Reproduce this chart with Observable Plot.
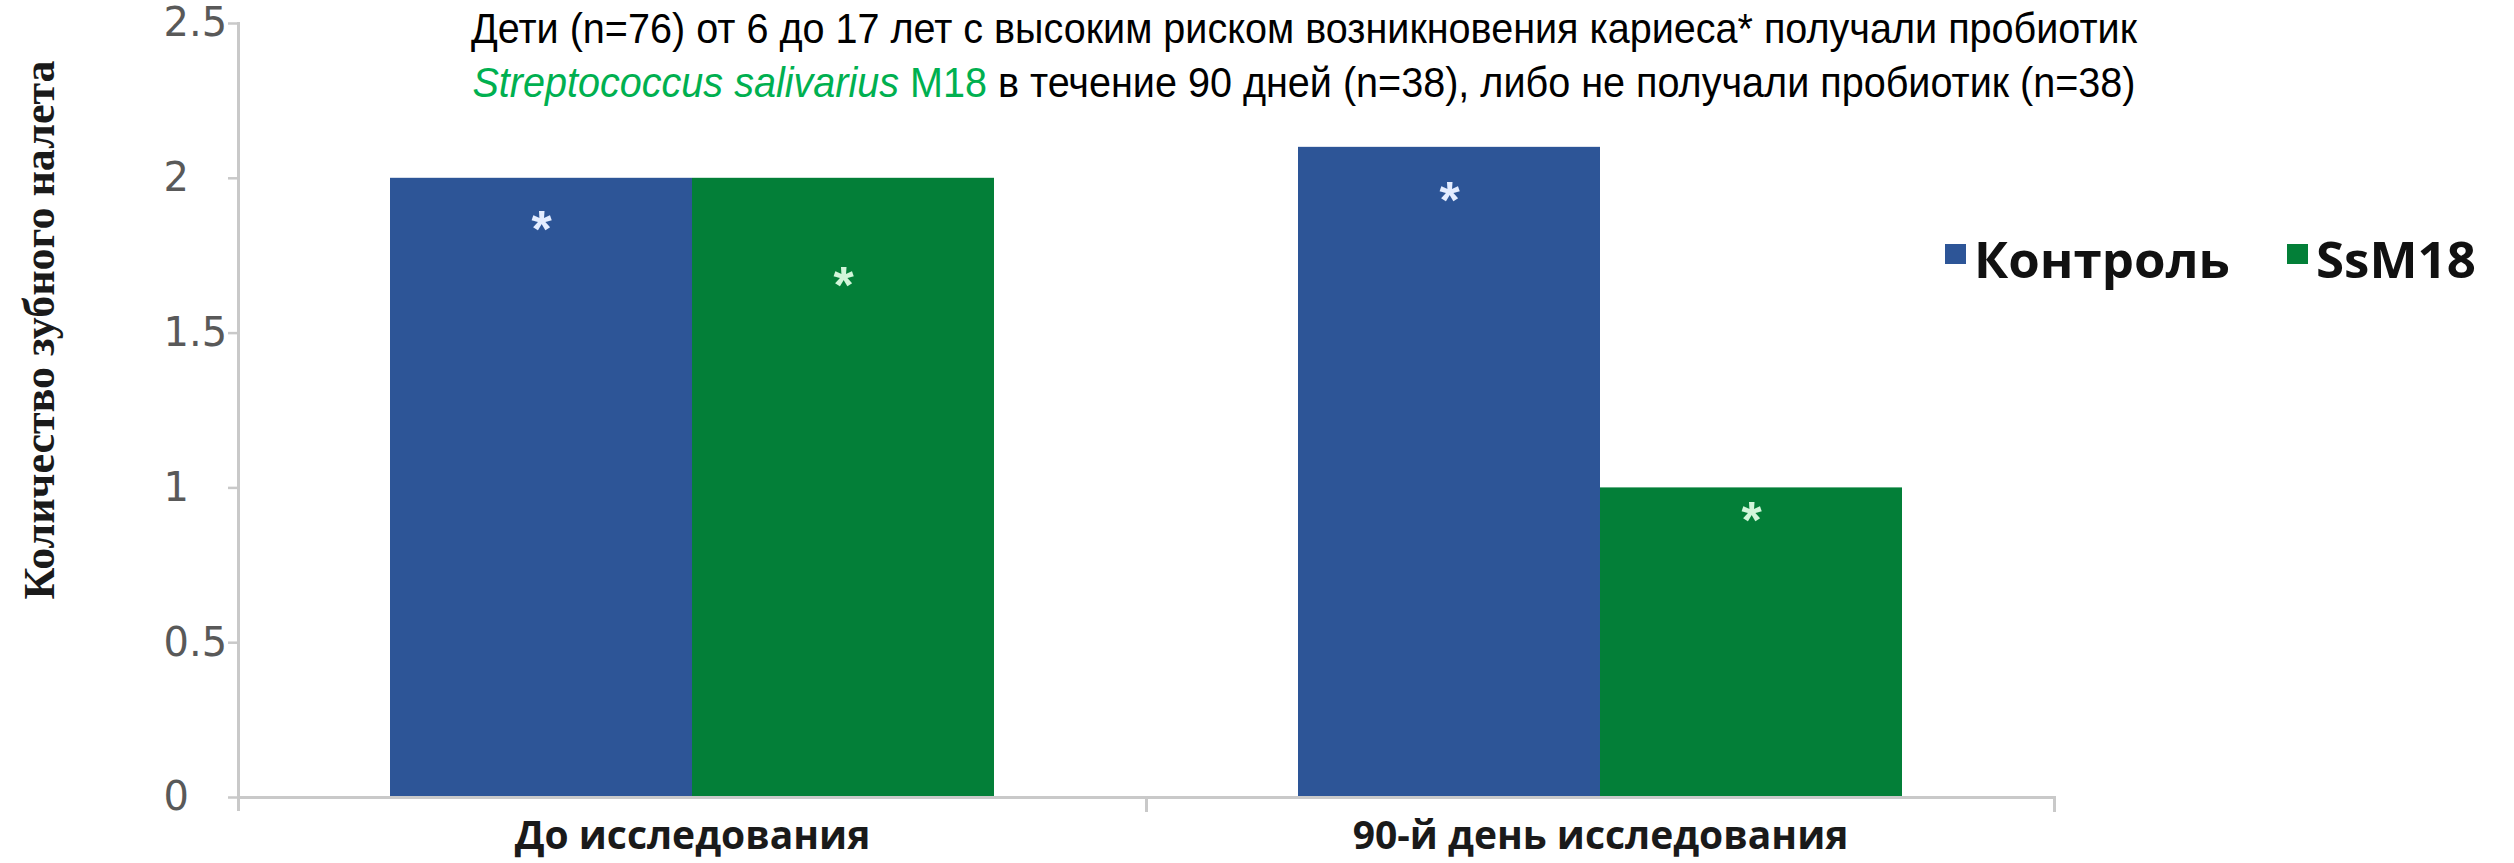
<!DOCTYPE html>
<html>
<head>
<meta charset="utf-8">
<script src="https://cdn.jsdelivr.net/npm/d3@7"></script>
<script src="https://cdn.jsdelivr.net/npm/@observablehq/plot@0.6"></script>
<style>
  html, body { margin: 0; padding: 0; background: #ffffff; }
  #wrap { position: relative; width: 2514px; height: 863px; overflow: hidden; }
  #chart svg { display: block; }
  .title { position: absolute; left: 104px; top: 1px; width: 2400px; text-align: center;
           transform: scaleX(0.92); transform-origin: 50% 0;
           font-family: "Liberation Sans", Arial, sans-serif; font-size: 43px; line-height: 54px; color: #000; white-space: nowrap; }
  .title .sp { color: #00B050; }
  .ylabel { position: absolute; left: 40px; top: 330px; transform: translate(-50%, -50%) rotate(-90deg);
            font-family: "Liberation Serif", "Times New Roman", serif; font-weight: bold; font-size: 44px; line-height: 1; white-space: nowrap; color: #1a1a1a; }
  .legend-item { position: absolute; font-family: "Open Sans", sans-serif; font-weight: bold; font-size: 51px; line-height: 51px; color: #111; white-space: nowrap; }
  .swatch { position: absolute; width: 21px; height: 20px; }
</style>
</head>
<body>
<div id="wrap">
  <div id="chart"></div>
</div>
<script>
// ---- data ----
const categories = ["До исследования", "90-й день исследования"];
const series = ["Контроль", "SsM18"];
const controlValues = [2.0, 2.1];
const ssm18Values = [2.0, 1.0];
// y positions (in data units) of the "*" marks inside each bar
const controlStars = [1.86, 1.955];
const ssm18Stars = [1.68, 0.92];
const seriesColors = ["#2D5597", "#037F38"];
const starColors = ["#E4EDFF", "#D2F6DA"];
const yTicks = [0, 0.5, 1, 1.5, 2, 2.5];
const yTickLabels = ["0", "0.5", "1", "1.5", "2", "2.5"];
const yLabel = "Количество зубного налета";
const titleLine1 = "Дети (n=76) от 6 до 17 лет с высоким риском возникновения кариеса* получали пробиотик";
const titleSpecies = "Streptococcus salivarius";
const titleStrain = "M18";
const titleLine2Rest = " в течение 90 дней (n=38), либо не получали пробиотик (n=38)";

// ---- table built from the arrays ----
const rows = [];
categories.forEach((c, i) => {
  rows.push({category: c, series: series[0], value: controlValues[i], star: controlStars[i]});
  rows.push({category: c, series: series[1], value: ssm18Values[i], star: ssm18Stars[i]});
});

const axisGray = "#c9c9c9";

const plot = Plot.plot({
  width: 2514,
  height: 863,
  marginLeft: 237,
  marginRight: 460,
  marginTop: 23,
  marginBottom: 66,
  style: {background: "transparent", overflow: "visible"},
  fx: {domain: categories, padding: 0, label: null},
  x: {domain: series, paddingInner: 0, paddingOuter: 0.5, axis: null},
  y: {domain: [0, 2.5], axis: null},
  color: {domain: series, range: seriesColors},
  marks: [
    Plot.barY(rows, {fx: "category", x: "series", y: "value", fill: "series"}),
    Plot.text(rows.filter(d => d.series === series[0]), {
      fx: "category", x: "series", y: "star", text: () => "*",
      fill: starColors[0], fontSize: 52, fontWeight: "bold", fontFamily: "Liberation Sans, Arial, sans-serif", dy: 9
    }),
    Plot.text(rows.filter(d => d.series === series[1]), {
      fx: "category", x: "series", y: "star", text: () => "*",
      fill: starColors[1], fontSize: 52, fontWeight: "bold", fontFamily: "Liberation Sans, Arial, sans-serif", dy: 9
    }),
    Plot.ruleY([0], {stroke: axisGray, strokeWidth: 3}),
    Plot.frame({anchor: "left", facetAnchor: "left", insetBottom: -12, stroke: axisGray, strokeWidth: 3}),
    Plot.frame({anchor: "right", insetTop: 774, insetBottom: -13, stroke: axisGray, strokeWidth: 3}),
    Plot.axisY(yTicks, {
      anchor: "left", tickSize: 10, tickPadding: 65, textAnchor: "start",
      tickFormat: d => yTickLabels[yTicks.indexOf(d)],
      fontSize: 40, fontFamily: "DejaVu Sans, Verdana, sans-serif",
      color: "#595959", stroke: axisGray, strokeWidth: 2.5, label: null
    }),
    Plot.axisFx({
      anchor: "bottom", tickSize: 0, tickPadding: 24,
      fontSize: 39, fontWeight: "bold", fontFamily: "Open Sans, sans-serif",
      color: "#1a1a1a", label: null
    })
  ]
});
document.getElementById("chart").appendChild(plot);

// ---- overlay texts (title, y label, legend) ----
const wrap = document.getElementById("wrap");
const title = document.createElement("div");
title.className = "title";
const l1 = document.createElement("div");
l1.textContent = titleLine1;
const l2 = document.createElement("div");
const sp = document.createElement("span"); sp.className = "sp"; sp.style.fontStyle = "italic"; sp.textContent = titleSpecies;
const st = document.createElement("span"); st.className = "sp"; st.textContent = " " + titleStrain;
l2.appendChild(sp); l2.appendChild(st); l2.appendChild(document.createTextNode(titleLine2Rest));
title.appendChild(l1); title.appendChild(l2);
wrap.appendChild(title);

const yl = document.createElement("div");
yl.className = "ylabel";
yl.textContent = yLabel;
wrap.appendChild(yl);

const legendX = [1945, 2287];
series.forEach((s, i) => {
  const sw = document.createElement("div");
  sw.className = "swatch";
  sw.style.left = legendX[i] + "px";
  sw.style.top = "244px";
  sw.style.background = seriesColors[i];
  wrap.appendChild(sw);
  const t = document.createElement("div");
  t.className = "legend-item";
  t.style.left = (legendX[i] + 29) + "px";
  t.style.top = "233px";
  t.textContent = s;
  wrap.appendChild(t);
});
</script>
</body>
</html>
